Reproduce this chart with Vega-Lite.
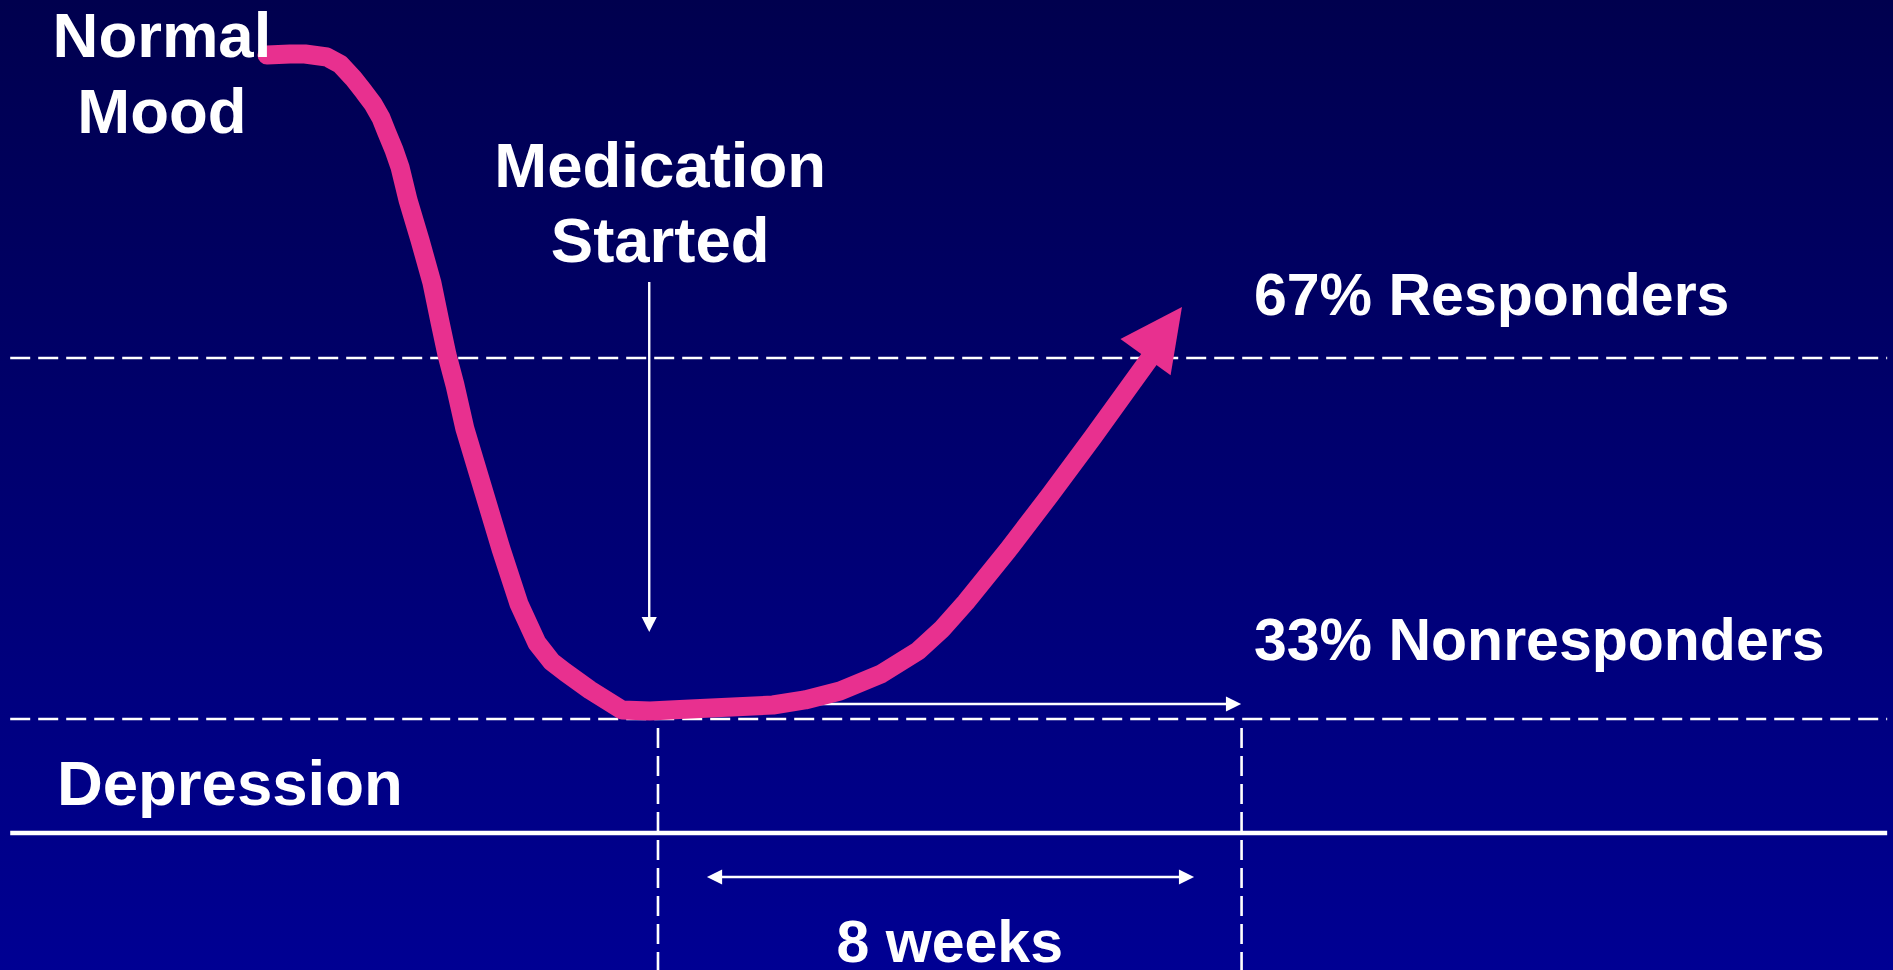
{
  "$schema": "https://vega.github.io/schema/vega-lite/v6.json",
  "width": 1893,
  "height": 970,
  "padding": 0,
  "autosize": {"type": "none"},
  "background": "#000070",
  "config": {"view": {"stroke": null}},
  "datasets": {
    "panel": [{"w": -9.02, "w2": 16.93, "m": 0, "m2": 100}],
    "mood": [
      {"w": -5.360, "m": 94.33}, {"w": -5.045, "m": 94.43}, {"w": -4.839, "m": 94.43},
      {"w": -4.537, "m": 94.12}, {"w": -4.359, "m": 93.40}, {"w": -4.181, "m": 91.96},
      {"w": -4.030, "m": 90.52}, {"w": -3.906, "m": 89.28}, {"w": -3.797, "m": 87.84},
      {"w": -3.715, "m": 86.29}, {"w": -3.619, "m": 84.54}, {"w": -3.537, "m": 82.78},
      {"w": -3.427, "m": 79.38}, {"w": -3.263, "m": 75.26}, {"w": -3.098, "m": 70.82},
      {"w": -2.988, "m": 66.80}, {"w": -2.892, "m": 63.40}, {"w": -2.783, "m": 60.31},
      {"w": -2.646, "m": 55.77}, {"w": -2.399, "m": 49.59}, {"w": -2.152, "m": 43.40},
      {"w": -1.905, "m": 37.73}, {"w": -1.659, "m": 33.71}, {"w": -1.453, "m": 31.75},
      {"w": -1.275, "m": 30.72}, {"w": -0.932, "m": 28.87}, {"w": -0.493, "m": 26.80},
      {"w": -0.110, "m": 26.70}, {"w": 0.439, "m": 26.91}, {"w": 1.576, "m": 27.32},
      {"w": 2.015, "m": 27.84}, {"w": 2.495, "m": 28.76}, {"w": 3.057, "m": 30.52},
      {"w": 3.564, "m": 32.89}, {"w": 3.893, "m": 35.15}, {"w": 4.222, "m": 37.94},
      {"w": 4.798, "m": 43.30}, {"w": 5.374, "m": 48.97}, {"w": 5.963, "m": 54.95},
      {"w": 6.457, "m": 60.10}, {"w": 6.744, "m": 63.09}
    ],
    "tip": [{"w": 6.933, "m": 65.77}],
    "thresholds": [
      {"w": -8.88, "w2": 16.85, "m": 63.09, "m2": 63.09},
      {"w": -8.88, "w2": 16.85, "m": 25.88, "m2": 25.88},
      {"w": 0, "w2": 0, "m": 24.95, "m2": 0},
      {"w": 8, "w2": 8, "m": 24.95, "m2": 0}
    ],
    "floor": [{"w": -8.88, "w2": 16.85, "m": 14.12, "m2": 14.12}],
    "pointers": [
      {"w": -0.12, "w2": -0.12, "m": 70.93, "m2": 36.2},
      {"w": 0.58, "w2": 7.80, "m": 27.42, "m2": 27.42},
      {"w": 0.85, "w2": 7.17, "m": 9.59, "m2": 9.59}
    ],
    "heads": [
      {"w": -0.12, "m": 35.62, "dir": "down"},
      {"w": 7.89, "m": 27.42, "dir": "right"},
      {"w": 7.245, "m": 9.59, "dir": "right"},
      {"w": 0.775, "m": 9.59, "dir": "left"}
    ],
    "centered": [
      {"w": -6.80, "m": 94.12, "text": "Normal"},
      {"w": -6.80, "m": 86.29, "text": "Mood"},
      {"w": 0.03, "m": 80.72, "text": "Medication"},
      {"w": 0.03, "m": 72.99, "text": "Started"}
    ],
    "depression": [{"w": -8.24, "m": 17.01, "text": "Depression"}],
    "outcomes": [
      {"w": 8.17, "m": 67.53, "text": "67% Responders"},
      {"w": 8.17, "m": 31.96, "text": "33% Nonresponders"}
    ],
    "span": [{"w": 4.0, "m": 0.82, "text": "8 weeks"}]
  },
  "layer": [
    {
      "data": {"name": "panel"},
      "mark": {
        "type": "rect",
        "color": {
          "gradient": "linear", "x1": 0, "y1": 0, "x2": 0, "y2": 1,
          "stops": [{"offset": 0, "color": "#00004E"}, {"offset": 1, "color": "#000093"}]
        }
      },
      "encoding": {
        "x": {"field": "w", "type": "quantitative", "axis": null, "scale": {"domain": [-9.02, 16.93], "nice": false, "zero": false}},
        "x2": {"field": "w2"},
        "y": {"field": "m", "type": "quantitative", "axis": null, "scale": {"domain": [0, 100], "nice": false, "zero": false}},
        "y2": {"field": "m2"}
      }
    },
    {
      "data": {"name": "thresholds"},
      "mark": {"type": "rule", "color": "white", "strokeWidth": 2.6, "strokeDash": [20, 8]},
      "encoding": {
        "x": {"field": "w", "type": "quantitative", "axis": null, "scale": {"domain": [-9.02, 16.93], "nice": false, "zero": false}},
        "x2": {"field": "w2"},
        "y": {"field": "m", "type": "quantitative", "axis": null, "scale": {"domain": [0, 100], "nice": false, "zero": false}},
        "y2": {"field": "m2"}
      }
    },
    {
      "data": {"name": "floor"},
      "mark": {"type": "rule", "color": "white", "strokeWidth": 4.5},
      "encoding": {
        "x": {"field": "w", "type": "quantitative", "axis": null, "scale": {"domain": [-9.02, 16.93], "nice": false, "zero": false}},
        "x2": {"field": "w2"},
        "y": {"field": "m", "type": "quantitative", "axis": null, "scale": {"domain": [0, 100], "nice": false, "zero": false}},
        "y2": {"field": "m2"}
      }
    },
    {
      "data": {"name": "pointers"},
      "mark": {"type": "rule", "color": "white", "strokeWidth": 2.4},
      "encoding": {
        "x": {"field": "w", "type": "quantitative", "axis": null, "scale": {"domain": [-9.02, 16.93], "nice": false, "zero": false}},
        "x2": {"field": "w2"},
        "y": {"field": "m", "type": "quantitative", "axis": null, "scale": {"domain": [0, 100], "nice": false, "zero": false}},
        "y2": {"field": "m2"}
      }
    },
    {
      "data": {"name": "heads"},
      "mark": {"type": "point", "filled": true, "color": "white", "opacity": 1, "size": 230, "strokeWidth": 0},
      "encoding": {
        "x": {"field": "w", "type": "quantitative", "axis": null, "scale": {"domain": [-9.02, 16.93], "nice": false, "zero": false}},
        "y": {"field": "m", "type": "quantitative", "axis": null, "scale": {"domain": [0, 100], "nice": false, "zero": false}},
        "shape": {
          "field": "dir", "type": "nominal", "legend": null,
          "scale": {"domain": ["down", "right", "left"], "range": ["M-1,-1L1,-1L0,1Z", "M-1,-1L1,0L-1,1Z", "M1,-1L-1,0L1,1Z"]}
        }
      }
    },
    {
      "data": {"name": "mood"},
      "mark": {"type": "line", "color": "#E8308F", "strokeWidth": 19, "strokeCap": "round", "strokeJoin": "round"},
      "encoding": {
        "x": {"field": "w", "type": "quantitative", "axis": null, "scale": {"domain": [-9.02, 16.93], "nice": false, "zero": false}},
        "y": {"field": "m", "type": "quantitative", "axis": null, "scale": {"domain": [0, 100], "nice": false, "zero": false}}
      }
    },
    {
      "data": {"name": "tip"},
      "mark": {"type": "point", "shape": "M0,-1L1,1L-1,1Z", "filled": true, "color": "#E8308F", "opacity": 1, "size": 3844, "angle": 36, "strokeWidth": 0},
      "encoding": {
        "x": {"field": "w", "type": "quantitative", "axis": null, "scale": {"domain": [-9.02, 16.93], "nice": false, "zero": false}},
        "y": {"field": "m", "type": "quantitative", "axis": null, "scale": {"domain": [0, 100], "nice": false, "zero": false}}
      }
    },
    {
      "data": {"name": "centered"},
      "mark": {"type": "text", "font": "Liberation Sans", "fontWeight": "bold", "fontSize": 63.5, "color": "white", "align": "center", "baseline": "alphabetic"},
      "encoding": {
        "x": {"field": "w", "type": "quantitative", "axis": null, "scale": {"domain": [-9.02, 16.93], "nice": false, "zero": false}},
        "y": {"field": "m", "type": "quantitative", "axis": null, "scale": {"domain": [0, 100], "nice": false, "zero": false}},
        "text": {"field": "text"}
      }
    },
    {
      "data": {"name": "depression"},
      "mark": {"type": "text", "font": "Liberation Sans", "fontWeight": "bold", "fontSize": 63.5, "color": "white", "align": "left", "baseline": "alphabetic"},
      "encoding": {
        "x": {"field": "w", "type": "quantitative", "axis": null, "scale": {"domain": [-9.02, 16.93], "nice": false, "zero": false}},
        "y": {"field": "m", "type": "quantitative", "axis": null, "scale": {"domain": [0, 100], "nice": false, "zero": false}},
        "text": {"field": "text"}
      }
    },
    {
      "data": {"name": "outcomes"},
      "mark": {"type": "text", "font": "Liberation Sans", "fontWeight": "bold", "fontSize": 59, "color": "white", "align": "left", "baseline": "alphabetic"},
      "encoding": {
        "x": {"field": "w", "type": "quantitative", "axis": null, "scale": {"domain": [-9.02, 16.93], "nice": false, "zero": false}},
        "y": {"field": "m", "type": "quantitative", "axis": null, "scale": {"domain": [0, 100], "nice": false, "zero": false}},
        "text": {"field": "text"}
      }
    },
    {
      "data": {"name": "span"},
      "mark": {"type": "text", "font": "Liberation Sans", "fontWeight": "bold", "fontSize": 59, "color": "white", "align": "center", "baseline": "alphabetic"},
      "encoding": {
        "x": {"field": "w", "type": "quantitative", "axis": null, "scale": {"domain": [-9.02, 16.93], "nice": false, "zero": false}},
        "y": {"field": "m", "type": "quantitative", "axis": null, "scale": {"domain": [0, 100], "nice": false, "zero": false}},
        "text": {"field": "text"}
      }
    }
  ]
}
